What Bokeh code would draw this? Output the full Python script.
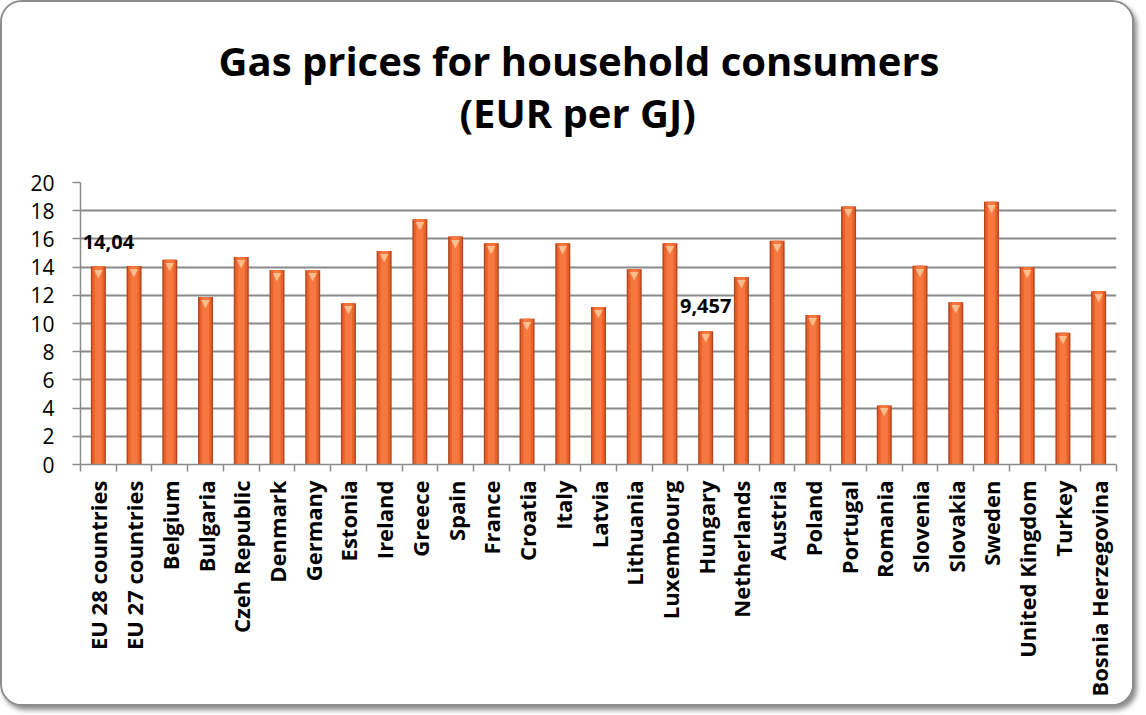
from bokeh.plotting import figure
from bokeh.models import ColumnDataSource, Range1d, FixedTicker, Label, Title
from bokeh.core.properties import value
from bokeh.embed import file_html
from bokeh.resources import INLINE

countries = ["EU 28 countries", "EU 27 countries", "Belgium", "Bulgaria", "Czeh Republic",
             "Denmark", "Germany", "Estonia", "Ireland", "Greece", "Spain", "France",
             "Croatia", "Italy", "Latvia", "Lithuania", "Luxembourg", "Hungary",
             "Netherlands", "Austria", "Poland", "Portugal", "Romania", "Slovenia",
             "Slovakia", "Sweden", "United Kingdom", "Turkey", "Bosnia Herzegovina"]
prices = [14.04, 14.07, 14.53, 11.88, 14.72, 13.80, 13.77, 11.43, 15.15, 17.40, 16.17,
          15.70, 10.34, 15.70, 11.17, 13.85, 15.70, 9.457, 13.30, 15.86, 10.60, 18.30,
          4.19, 14.10, 11.50, 18.63, 14.01, 9.35, 12.28]
labelled = ["EU 28 countries", "Hungary"]
y_ticks = [0, 2, 4, 6, 8, 10, 12, 14, 16, 18, 20]
title_lines = ["Gas prices for household consumers", "(EUR per GJ)"]

n = len(countries)
xs = [i + 0.5 for i in range(n)]
src = ColumnDataSource(dict(x=xs, top=prices, name=countries, tri=["\u25BC"] * n))

FONT = "Open Sans"
W, H = 1134, 706

p = figure(width=W, height=H, output_backend="svg", toolbar_location=None,
           x_range=Range1d(0, n), y_range=Range1d(0, 20),
           min_border_left=78, min_border_right=20, min_border_top=180,
           min_border_bottom=244)
p.styles = {"border": "2px solid #8c8c8c", "border-radius": "22px",
            "box-shadow": "3px 4px 5px rgba(0,0,0,0.45)", "overflow": "hidden",
            "background-color": "white"}
p.border_fill_color = "white"
p.background_fill_color = "white"
p.outline_line_color = None

# bars (layered to mimic the bevelled look)
p.vbar(x="x", top="top", bottom=0, width=0.42, source=src, fill_color="#B5461B", line_color=None)
p.vbar(x="x", top="top", bottom=0, width=0.34, source=src, fill_color="#E8622D", line_color=None)
p.vbar(x="x", top="top", bottom=0, width=0.2, source=src, fill_color="#F7783F", line_color=None)
p.text(x="x", y="top", text="tri", source=src, text_align="center", text_baseline="top",
       text_font_size="11px", text_color="#FCBE8C", text_font=value("DejaVu Sans"))

# data labels (the first one is nudged right so it stays inside the plot frame)
label_shift = [10, 0]
for c, dx in zip(labelled, label_shift):
    i = countries.index(c)
    v = prices[i]
    p.add_layout(Label(x=xs[i], y=v, text=str(v).replace(".", ","), x_units="data", y_units="data",
                       x_offset=dx, y_offset=25, text_align="center", text_baseline="middle",
                       text_font=FONT, text_font_style="bold", text_font_size="20px",
                       text_color="black"))

# axes
xa = p.xaxis[0]
xa.ticker = FixedTicker(ticks=xs, minor_ticks=list(range(n + 1)))
xa.major_label_overrides = {x: c for x, c in zip(xs, countries)}
xa.major_label_orientation = 3.14159265 / 2
xa.major_tick_out = 0
xa.major_tick_in = 0
xa.minor_tick_out = 7
xa.minor_tick_in = 0
xa.minor_tick_line_color = "#8c8c8c"
xa.minor_tick_line_width = 1.5
xa.axis_line_color = "#8c8c8c"
xa.axis_line_width = 1.5
xa.major_label_standoff = 9
xa.major_label_text_font = FONT
xa.major_label_text_font_style = "bold"
xa.major_label_text_font_size = "22px"
xa.major_label_text_color = "black"

ya = p.yaxis[0]
ya.ticker = FixedTicker(ticks=y_ticks)
ya.minor_tick_line_color = None
ya.major_tick_out = 8
ya.major_tick_in = 0
ya.major_tick_line_color = "#8c8c8c"
ya.major_tick_line_width = 1.5
ya.axis_line_color = "#8c8c8c"
ya.axis_line_width = 1.5
ya.major_label_standoff = 18
ya.major_label_text_font = FONT
ya.major_label_text_font_size = "21px"
ya.major_label_text_color = "black"

p.xgrid.grid_line_color = None
p.ygrid.ticker = FixedTicker(ticks=y_ticks)
p.ygrid.grid_line_color = "#8a8a8a"
p.ygrid.grid_line_width = 1.8

# spacer between the title block and the plot frame
p.add_layout(Title(text=" ", text_font_size="1px", standoff=40), "above")
# title (two lines) - last added sits on top; left offsets centre each line on the chart box
title_offsets = [138, 379]
title_standoffs = [-10, 0]
for t, off, so in reversed(list(zip(title_lines, title_offsets, title_standoffs))):
    p.add_layout(Title(text=t, align="left", offset=off, standoff=so,
                       text_font=FONT, text_font_style="bold", text_font_size="40px",
                       text_color="black"), "above")

open("out.html", "w").write(file_html(p, INLINE))
